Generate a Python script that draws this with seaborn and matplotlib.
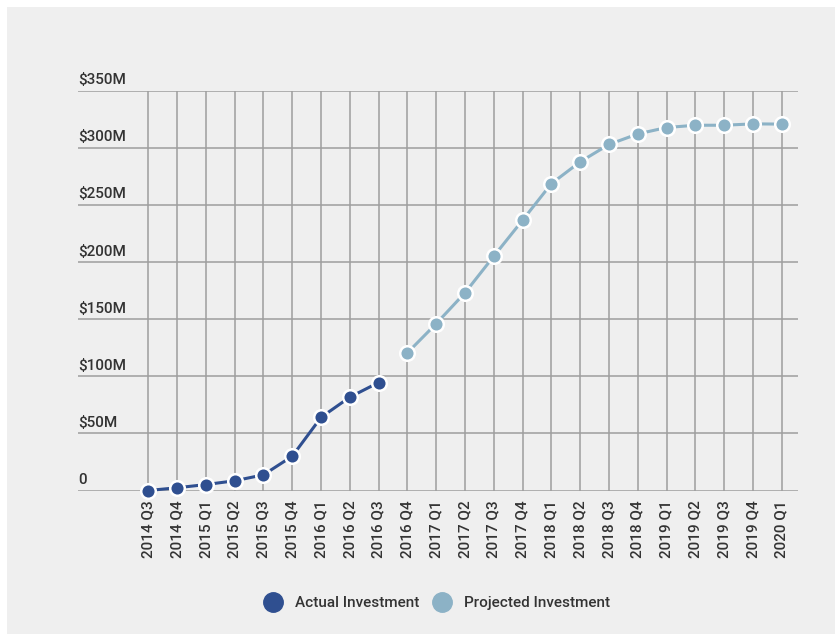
import matplotlib
matplotlib.use("Agg")
import matplotlib.pyplot as plt
import matplotlib.transforms as mtransforms
from matplotlib.patches import Rectangle
from matplotlib.lines import Line2D
import pandas as pd
import seaborn as sns

# Quarterly investment, in $M
quarters = ["2014 Q3", "2014 Q4", "2015 Q1", "2015 Q2", "2015 Q3", "2015 Q4",
            "2016 Q1", "2016 Q2", "2016 Q3", "2016 Q4", "2017 Q1", "2017 Q2",
            "2017 Q3", "2017 Q4", "2018 Q1", "2018 Q2", "2018 Q3", "2018 Q4",
            "2019 Q1", "2019 Q2", "2019 Q3", "2019 Q4", "2020 Q1"]
actual_quarters = quarters[:9]
actual_values = [0, 2.4, 5.2, 8.5, 13.7, 30, 64, 81.7, 94.5]
projected_quarters = quarters[9:]
projected_values = [120.5, 146, 173, 205, 236.5, 268.5, 287.6, 302.8, 312,
                    317.6, 319.6, 319.6, 320.8, 320.6]
y_ticks = [0, 50, 100, 150, 200, 250, 300, 350]
y_tick_labels = ["0", "$50M", "$100M", "$150M", "$200M", "$250M", "$300M", "$350M"]

ACTUAL_COLOR = "#2f4f90"
PROJECTED_COLOR = "#8cb2c6"
GRID_COLOR = "#9e9e9e"
TEXT_COLOR = "#333333"
BG = "#efefef"

sns.set_theme(style="white")
plt.rcParams["font.family"] = ["Roboto", "DejaVu Sans"]

fig = plt.figure(figsize=(8.35, 6.34), dpi=100, facecolor="white")
fig.patches.append(Rectangle((7 / 835, 0), 1, 1 - 7 / 634, transform=fig.transFigure,
                             facecolor=BG, edgecolor="none", zorder=-10))
ax = fig.add_axes([78 / 835, 1 - 490.5 / 634, (797.5 - 78) / 835, 400 / 634])
ax.set_facecolor("none")

pos = {q: i for i, q in enumerate(quarters)}
actual_df = pd.DataFrame({"x": [pos[q] for q in actual_quarters], "value": actual_values})
proj_df = pd.DataFrame({"x": [pos[q] for q in projected_quarters], "value": projected_values})

# grid
for i in range(len(quarters)):
    ax.plot([i, i], [0, 350], color=GRID_COLOR, lw=1.1, zorder=1, solid_capstyle="butt")
for t in y_ticks:
    ax.axhline(t, color=GRID_COLOR, lw=1.1, zorder=1)

common = dict(x="x", y="value", ax=ax, marker="o", markersize=10.5,
              markeredgecolor="white", markeredgewidth=1.8, linewidth=2.2,
              clip_on=False, zorder=3)
sns.lineplot(data=actual_df, color=ACTUAL_COLOR, **common)
sns.lineplot(data=proj_df, color=PROJECTED_COLOR, **common)

step = (781.7 - 148.3) / 22
ax.set_xlim(-(148.3 - 78) / step, 22 + (797.5 - 781.7) / step)
ax.set_ylim(0, 350)
for s in ax.spines.values():
    s.set_visible(False)

ax.set_xticks(range(len(quarters)))
ax.set_xticklabels(quarters, rotation=90, fontsize=11, color=TEXT_COLOR,
                   fontweight="medium")
ax.tick_params(axis="x", length=0, pad=7)
ax.set_yticks([])
ax.set_xlabel("")
ax.set_ylabel("")

trans = mtransforms.blended_transform_factory(ax.transAxes, ax.transData)
for t, lab in zip(y_ticks, y_tick_labels):
    ax.text(0.0, t + 3, lab, transform=trans, ha="left", va="bottom",
            fontsize=11, color=TEXT_COLOR, fontweight="medium")

handles = [Line2D([], [], marker="o", linestyle="none", markersize=14,
                  markerfacecolor=c, markeredgecolor=c) for c in (ACTUAL_COLOR, PROJECTED_COLOR)]
fig.legend(handles, ["Actual Investment", "Projected Investment"], loc="center",
           bbox_to_anchor=(437 / 835, 1 - 603 / 634), ncol=2, frameon=False,
           prop={"size": 11, "weight": "medium"}, labelcolor=TEXT_COLOR,
           handletextpad=0.8, columnspacing=0.9, handlelength=1.2)

fig.savefig("out.png", dpi=100, facecolor="white")
